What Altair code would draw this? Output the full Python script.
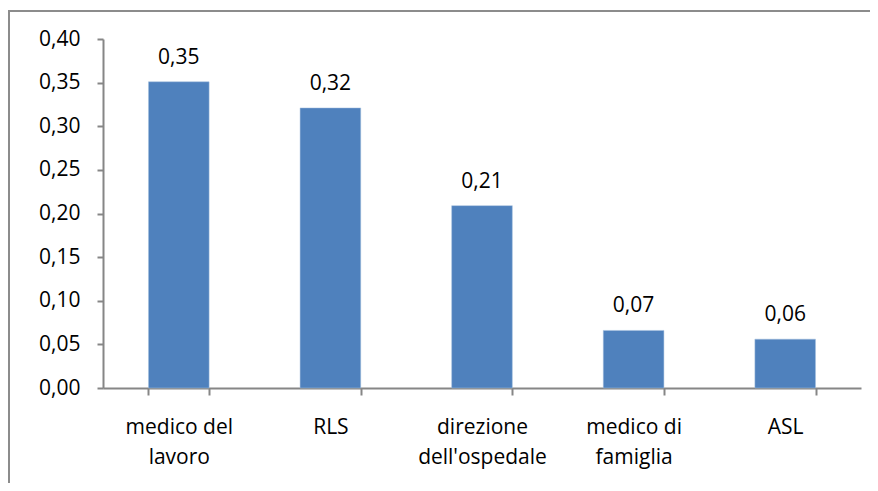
import altair as alt
import pandas as pd

categories = ["medico del lavoro", "RLS", "direzione dell'ospedale", "medico di famiglia", "ASL"]
label_lines = [["medico del", "lavoro"], ["RLS"], ["direzione", "dell'ospedale"], ["medico di", "famiglia"], ["ASL"]]
values = [0.351, 0.321, 0.209, 0.066, 0.056]
y_ticks = [0.0, 0.05, 0.10, 0.15, 0.20, 0.25, 0.30, 0.35, 0.40]

df = pd.DataFrame({"cat": categories, "val": values})

FONT = "Open Sans"
FS = 21
GRAY = "#868686"

# build label expression mapping category -> list of lines
parts = []
for c, lines in zip(categories, label_lines):
    arr = "[" + ",".join("'" + l.replace("'", "\\'") + "'" for l in lines) + "]"
    parts.append((c.replace("'", "\\'"), arr))
expr = "datum.label"
for c, arr in reversed(parts):
    expr = f"datum.label === '{c}' ? {arr} : ({expr})"

x_enc = alt.X(
    "cat:N",
    sort=categories,
    title=None,
    scale=alt.Scale(paddingInner=0.6, paddingOuter=0.3),
    axis=alt.Axis(
        labelExpr=expr,
        labelAngle=0,
        labelFont=FONT,
        labelFontSize=FS,
        labelColor="#000000",
        labelLineHeight=30,
        labelPadding=21,
        labelBaseline="top",
        tickBand="extent",
        tickSize=7,
        tickColor=GRAY,
        domainColor=GRAY,
        domainWidth=2,
        tickWidth=2,
        grid=False,
    ),
)

y_enc = alt.Y(
    "val:Q",
    title=None,
    scale=alt.Scale(domain=[0, 0.4], nice=False),
    axis=alt.Axis(
        values=y_ticks,
        labelExpr="replace(format(datum.value, '.2f'), '.', ',')",
        labelFont=FONT,
        labelFontSize=FS,
        labelColor="#000000",
        labelPadding=17,
        tickSize=6,
        tickColor=GRAY,
        domainColor=GRAY,
        domainWidth=2,
        tickWidth=2,
        grid=False,
    ),
)

bars = alt.Chart(df).mark_bar(color="#4F81BD", stroke="#A7C0DE", strokeWidth=0.5).encode(x=x_enc, y=y_enc)

labels = alt.Chart(df).mark_text(
    font=FONT, fontSize=FS, color="#000000", baseline="alphabetic", dy=-18
).encode(
    x=alt.X("cat:N", sort=categories),
    y="val:Q",
    text=alt.Text("lbl:N"),
).transform_calculate(lbl="replace(format(datum.val, '.2f'), '.', ',')")

frame = alt.Chart(pd.DataFrame({"a": [0]})).mark_rect(
    fill=None, stroke="#8C8C8C", strokeWidth=2, clip=False
).encode(
    x=alt.value(-94), x2=alt.value(1200), y=alt.value(-28), y2=alt.value(800)
)

chart = alt.layer(frame, bars, labels).properties(
    width=758,
    height=349,
    autosize=alt.AutoSizeParams(type="none"),
    padding={"left": 95, "top": 31, "right": 9, "bottom": 95},
).configure_view(stroke=None)

chart.save("out.html", embed_options={"renderer": "svg", "actions": False})
